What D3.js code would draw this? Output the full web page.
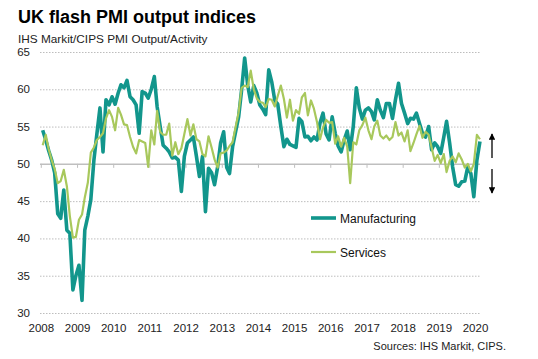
<!DOCTYPE html>
<html>
<head>
<meta charset="utf-8">
<script src="https://cdn.jsdelivr.net/npm/d3@7"></script>
<style>
  body { margin: 0; background: #fff; }
  svg { font-family: "Liberation Sans", Arial, sans-serif; }
</style>
</head>
<body>
<svg id="chart" width="538" height="359"></svg>
<script>
// monthly values, Jan 2008 .. Feb 2020
var manufacturing = [
  54.5, 53.2, 51.8, 50.5, 48.8, 43.3, 42.7, 46.5, 41.1, 40.7, 33.1, 35.0,
  36.4, 31.7, 41.1, 43.0, 45.2, 50.5, 54.0, 57.5, 51.6, 58.6, 57.9, 59.0,
  58.0, 59.5, 60.6, 60.2, 61.2, 59.0, 58.6, 57.9, 54.1, 59.7, 59.5, 58.8,
  60.0, 61.7, 57.7, 55.0, 52.5, 52.1, 51.6, 50.8, 50.9, 50.5, 46.3, 51.0,
  52.8, 53.2, 53.6, 51.0, 48.3, 51.0, 43.6, 49.4, 48.8, 47.2, 49.6, 52.8,
  54.3, 49.5, 48.7, 52.3, 54.3, 56.3, 59.9, 64.2, 60.5, 58.3, 60.5, 59.5,
  57.9, 57.3, 56.6, 62.6, 61.0, 58.5, 58.0, 55.0, 52.3, 53.3, 52.6, 52.4,
  52.2, 56.1, 55.7, 53.6, 53.7, 53.1, 53.6, 53.2, 55.5, 56.8, 54.0, 53.2,
  56.3, 54.1, 52.4, 51.6, 53.2, 54.4, 51.9, 55.0, 60.2, 57.5, 56.0, 57.2,
  57.5, 57.0, 55.9, 58.6, 57.2, 56.2, 58.1, 58.1, 56.1, 58.6, 60.8, 58.1,
  56.8, 55.4, 56.1, 56.0, 56.8, 55.4, 54.1, 53.6, 55.0, 51.9, 52.8, 52.3,
  51.4, 53.6, 55.7, 52.8, 49.6, 47.2, 47.0, 47.6, 47.7, 49.6, 48.7, 45.6,
  50.5, 53.0
];
var services = [
  52.5, 53.9, 52.0, 50.5, 49.3, 47.4, 47.7, 49.2, 47.0, 43.0, 40.1, 40.2,
  42.5, 43.2, 45.5, 47.5, 51.5, 52.2, 53.2, 53.6, 54.1, 56.1, 57.2, 56.3,
  54.5, 57.5, 56.6, 55.3, 55.2, 53.6, 52.3, 51.4, 53.2, 53.0, 52.8, 49.6,
  54.5, 52.6, 57.1, 54.3, 53.9, 53.9, 55.4, 51.1, 52.9, 51.3, 52.1, 54.0,
  56.0, 53.8, 55.3, 53.3, 53.0, 51.3, 51.0, 53.7, 52.2, 50.6, 49.5, 51.4,
  51.5, 51.8, 52.4, 52.9, 54.9, 56.9, 60.2, 60.5, 60.3, 62.5, 60.0, 58.8,
  58.3, 58.2, 57.6, 58.7, 58.6, 57.7, 59.1, 60.5, 58.7, 56.2, 58.6, 55.8,
  57.2, 56.7, 58.9, 59.5, 56.5, 58.5, 57.4, 55.6, 53.3, 54.9, 55.9, 55.5,
  55.6, 52.7, 53.7, 52.3, 53.5, 52.3, 47.4, 52.9, 52.6, 54.5, 55.2, 56.2,
  54.5, 53.3, 55.0, 55.8, 53.8, 53.4, 53.8, 53.2, 53.6, 55.6, 53.8, 54.2,
  53.0, 54.5, 51.7, 52.8, 54.0, 55.1, 53.5, 54.3, 53.9, 52.2, 50.4, 51.2,
  50.1, 51.3, 48.9, 50.4, 51.0, 50.2, 51.4, 50.6, 49.5, 50.0, 49.0, 50.0,
  53.9, 53.3
];
var yTicks = [30, 35, 40, 45, 50, 55, 60, 65];
var years = d3.range(2008, 2021);

var svg = d3.select("#chart");

var x = d3.scaleTime()
    .domain([new Date(2008, 0, 1), new Date(2020, 0, 1)])
    .range([41.3, 475.5]);
var y = d3.scaleLinear().domain([30, 65]).range([313, 52]);

function monthDate(i) { return new Date(2008, i, 15); }

// titles
svg.append("text").attr("x", 18).attr("y", 23)
    .style("font-size", "18px").style("font-weight", "bold").attr("fill", "#000")
    .text("UK flash PMI output indices");
svg.append("text").attr("x", 18).attr("y", 43)
    .style("font-size", "11.8px").attr("fill", "#222")
    .text("IHS Markit/CIPS PMI Output/Activity");

// grid
var gridEnd = 480;
svg.append("g").selectAll("line")
    .data(yTicks.filter(function(d) { return d !== 50; }))
    .enter().append("line")
    .attr("x1", 40).attr("x2", gridEnd)
    .attr("y1", function(d) { return y(d) + 0.5; })
    .attr("y2", function(d) { return y(d) + 0.5; })
    .attr("stroke", "#bdbdbd").attr("stroke-width", 1)
    .attr("stroke-dasharray", "1.5,1.5");

// 50 line with year ticks
svg.append("line")
    .attr("x1", 40).attr("x2", gridEnd)
    .attr("y1", y(50) + 0.5).attr("y2", y(50) + 0.5)
    .attr("stroke", "#bfbfbf").attr("stroke-width", 1.5);
svg.append("g").selectAll("line")
    .data(years)
    .enter().append("line")
    .attr("x1", function(d) { return x(new Date(d, 0, 1)); })
    .attr("x2", function(d) { return x(new Date(d, 0, 1)); })
    .attr("y1", y(50)).attr("y2", y(50) + 4)
    .attr("stroke", "#bfbfbf").attr("stroke-width", 1);

// y labels
svg.append("g").selectAll("text")
    .data(yTicks)
    .enter().append("text")
    .attr("x", 30).attr("y", function(d) { return y(d) + 4; })
    .attr("text-anchor", "end")
    .style("font-size", "11.5px").attr("fill", "#222")
    .text(function(d) { return d; });

// x labels
svg.append("g").selectAll("text")
    .data(years)
    .enter().append("text")
    .attr("x", function(d) { return x(new Date(d, 0, 1)); })
    .attr("y", 332)
    .attr("text-anchor", "middle")
    .style("font-size", "11.5px").attr("fill", "#222")
    .text(function(d) { return d; });

// lines
var line = d3.line()
    .x(function(d, i) { return x(monthDate(i)); })
    .y(function(d) { return y(d); });

svg.append("path").datum(manufacturing)
    .attr("d", line).attr("fill", "none")
    .attr("stroke", "#12968c").attr("stroke-width", 3.6)
    .attr("stroke-linejoin", "round");
svg.append("path").datum(services)
    .attr("d", line).attr("fill", "none")
    .attr("stroke", "#a8c85c").attr("stroke-width", 2.2)
    .attr("stroke-linejoin", "round");

// legend
var legend = [
  {name: "Manufacturing", color: "#12968c", w: 3.6, yv: 218},
  {name: "Services", color: "#a8c85c", w: 2.2, yv: 252}
];
var lg = svg.append("g").selectAll("g").data(legend).enter().append("g");
lg.append("line")
    .attr("x1", 311).attr("x2", 336)
    .attr("y1", function(d) { return d.yv; }).attr("y2", function(d) { return d.yv; })
    .attr("stroke", function(d) { return d.color; })
    .attr("stroke-width", function(d) { return d.w; });
lg.append("text")
    .attr("x", 340).attr("y", function(d) { return d.yv + 4.5; })
    .style("font-size", "12px").attr("fill", "#111")
    .text(function(d) { return d.name; });

// arrows
var defs = svg.append("defs");
defs.append("marker").attr("id", "ah")
    .attr("viewBox", "0 0 10 10").attr("refX", 9).attr("refY", 5)
    .attr("markerWidth", 5).attr("markerHeight", 5).attr("orient", "auto")
    .append("path").attr("d", "M0,0 L10,5 L0,10 z").attr("fill", "#000");
svg.append("line").attr("x1", 492).attr("x2", 492).attr("y1", 158).attr("y2", 134)
    .attr("stroke", "#000").attr("stroke-width", 1.3).attr("marker-end", "url(#ah)");
svg.append("line").attr("x1", 492).attr("x2", 492).attr("y1", 169).attr("y2", 193)
    .attr("stroke", "#000").attr("stroke-width", 1.3).attr("marker-end", "url(#ah)");

// source
svg.append("text").attr("x", 506).attr("y", 350)
    .attr("text-anchor", "end")
    .style("font-size", "11px").attr("fill", "#222")
    .text("Sources: IHS Markit, CIPS.");
</script>
</body>
</html>
